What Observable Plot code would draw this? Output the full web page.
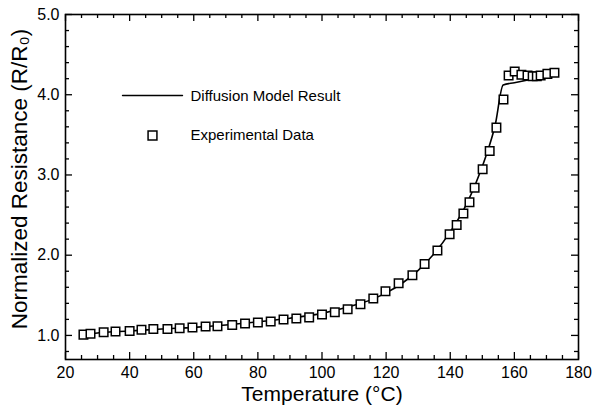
<!DOCTYPE html>
<html>
<head>
<meta charset="utf-8">
<script src="https://cdn.jsdelivr.net/npm/d3@7"></script>
<script src="https://cdn.jsdelivr.net/npm/@observablehq/plot@0.6"></script>
<style>
  html, body { margin: 0; padding: 0; background: #fff; }
  svg { font-family: "Liberation Sans", Arial, Helvetica, sans-serif; }
</style>
</head>
<body>
<div id="chart"></div>
<script>
// Experimental data (squares)
const expT = [25.6, 27.8, 31.9, 35.6, 40, 43.7, 47.4, 51.8, 55.6, 59.6, 63.7, 67.4, 72,
  76, 80, 84, 88, 92, 96, 100, 104, 108, 112, 116,
  119.8, 123.9, 128.2, 132, 136, 139.8,
  142, 144.1, 146, 147.6, 150.1, 152.3, 154.4, 156.6, 158.2, 160.1, 162.2,
  164.1, 165.7, 167, 168.2, 170.3, 172.5];
const expR = [1.01, 1.02, 1.04, 1.05, 1.055, 1.07, 1.08, 1.08, 1.09, 1.10, 1.11, 1.115, 1.13,
  1.15, 1.16, 1.175, 1.2, 1.21, 1.225, 1.26, 1.29, 1.325, 1.39, 1.46,
  1.55, 1.65, 1.75, 1.89, 2.06, 2.26,
  2.375, 2.52, 2.66, 2.84, 3.07, 3.3, 3.59, 3.94, 4.24, 4.29, 4.25,
  4.24, 4.23, 4.23, 4.24, 4.26, 4.275];

// Diffusion model result (line)
const modelT = [26, 30, 40, 50, 60, 70, 80, 90, 100, 110, 115, 120, 125, 130, 135, 140, 145, 148, 151, 154, 156.5, 160, 165, 170, 173.5];
const modelR = [1.0, 1.03, 1.055, 1.08, 1.10, 1.13, 1.17, 1.215, 1.275, 1.375, 1.44, 1.53, 1.65, 1.81, 2.02, 2.29, 2.63, 2.9, 3.22, 3.62, 4.12, 4.15, 4.19, 4.23, 4.25];

// Axes
const xDomain = [20, 180];
const yDomain = [0.7, 5.0];
const xMajor = [20, 40, 60, 80, 100, 120, 140, 160, 180];
const xMinor = [25, 30, 35, 45, 50, 55, 65, 70, 75, 85, 90, 95, 105, 110, 115, 125, 130, 135, 145, 150, 155, 165, 170, 175];
const yMajor = [1.0, 2.0, 3.0, 4.0, 5.0];
const yMinor = [0.8, 1.2, 1.4, 1.6, 1.8, 2.2, 2.4, 2.6, 2.8, 3.2, 3.4, 3.6, 3.8, 4.2, 4.4, 4.6, 4.8];

const xTitle = "Temperature (°C)";
const yTitle = "Normalized Resistance (R/R₀)";
const legendLine = "Diffusion Model Result";
const legendDots = "Experimental Data";

const expData = expT.map((t, i) => ({t, r: expR[i]}));
const modelData = modelT.map((t, i) => ({t, r: modelR[i]}));

const W = 592, H = 408, mL = 65, mR = 14, mT = 14, mB = 49;
const fw = W - mL - mR, fh = H - mT - mB;
// data units per pixel, used to give inward ticks a fixed pixel length
const kx = (xDomain[1] - xDomain[0]) / fw;
const ky = (yDomain[1] - yDomain[0]) / fh;

const lineShape = {draw(ctx, l) { ctx.moveTo(0, 0); ctx.lineTo(0, -l); }};
const tickStyle = {stroke: "black", strokeWidth: 1.3};

function xTicks(data, len) {
  return [
    Plot.ruleX(data, {x: d => d, y1: yDomain[0], y2: yDomain[0] + len * ky, ...tickStyle}),
    Plot.ruleX(data, {x: d => d, y1: yDomain[1], y2: yDomain[1] - len * ky, ...tickStyle})
  ];
}
function yTicks(data, len) {
  return [
    Plot.ruleY(data, {y: d => d, x1: xDomain[0], x2: xDomain[0] + len * kx, ...tickStyle}),
    Plot.ruleY(data, {y: d => d, x1: xDomain[1], x2: xDomain[1] - len * kx, ...tickStyle})
  ];
}

const font = "'Liberation Sans', Arial, Helvetica, sans-serif";

const chart = Plot.plot({
  width: W,
  height: H,
  marginLeft: mL,
  marginRight: mR,
  marginTop: mT,
  marginBottom: mB,
  style: {fontFamily: font, background: "white"},
  x: {domain: xDomain},
  y: {domain: yDomain},
  marks: [
    Plot.axisX({ticks: xMajor, tickSize: 0, tickPadding: 7, fontSize: 16, fill: "black", label: null}),
    Plot.axisY({ticks: yMajor, tickSize: 0, tickPadding: 6, fontSize: 16, fill: "black",
      tickFormat: d3.format(".1f"), label: null}),
    Plot.text([xTitle], {frameAnchor: "bottom", text: d => d, dy: 35, lineAnchor: "middle", textAnchor: "middle",
      fontSize: 21, fill: "black"}),
    Plot.text([yTitle], {frameAnchor: "left", text: d => d, dx: -46, dy: -8, rotate: -90,
      lineAnchor: "middle", textAnchor: "middle", fontSize: 22.5, fill: "black"}),
    ...xTicks(xMajor, 7), ...xTicks(xMinor, 4),
    ...yTicks(yMajor, 7), ...yTicks(yMinor, 4),
    Plot.frame({stroke: "black", strokeWidth: 1.6}),
    Plot.line(modelData, {x: "t", y: "r", curve: "monotone-x", stroke: "black", strokeWidth: 1.6}),
    Plot.dot(expData, {x: "t", y: "r", symbol: "square", r: 4.8, stroke: "black", strokeWidth: 1.5, fill: "white"}),
    // legend
    Plot.vector([legendLine], {frameAnchor: "top-left", dx: 57, dy: 81, length: 60, rotate: 90,
      anchor: "start", shape: lineShape, stroke: "black", strokeWidth: 1.4}),
    Plot.text([legendLine], {frameAnchor: "top-left", text: d => d, dx: 125, dy: 82,
      lineAnchor: "middle", textAnchor: "start", fontSize: 15, fill: "black"}),
    Plot.dot([legendDots], {frameAnchor: "top-left", dx: 87, dy: 121, symbol: "square", r: 5,
      stroke: "black", strokeWidth: 1.5, fill: "white"}),
    Plot.text([legendDots], {frameAnchor: "top-left", text: d => d, dx: 125, dy: 121,
      lineAnchor: "middle", textAnchor: "start", fontSize: 15, fill: "black"})
  ]
});
document.getElementById("chart").appendChild(chart);
</script>
</body>
</html>
